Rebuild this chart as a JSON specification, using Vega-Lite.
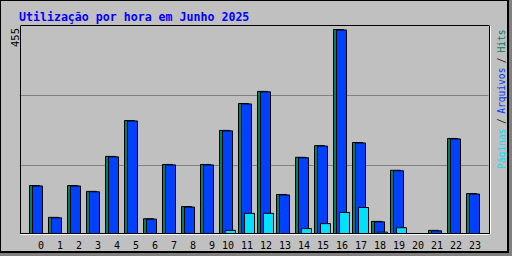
{
  "$schema": "https://vega.github.io/schema/vega-lite/v6.json",
  "width": 508,
  "height": 252,
  "autosize": {"type": "none"},
  "padding": {"left": 0, "top": 0, "right": 4, "bottom": 4},
  "background": "#808080",
  "config": {
    "view": {"fill": "#c0c0c0", "stroke": "#000000", "strokeWidth": 2},
    "axis": {"labelFont": "DejaVu Sans Mono", "labelColor": "#000000", "ticks": false, "tickSize": 0, "title": null, "domainWidth": 1, "labelOverlap": false, "labelBound": false, "labelFlush": false, "grid": false}
  },
  "title": {"text": "Utilização por hora em Junho 2025", "anchor": "start", "frame": "group", "dx": 19, "offset": -32.5, "baseline": "alphabetic", "font": "DejaVu Sans Mono", "fontWeight": "bold", "fontSize": 11.6, "color": "#0000ff"},
  "data": {"values": [
    {"hour": 0, "hits": 107, "files": 106, "pages": 0},
    {"hour": 1, "hits": 36, "files": 35, "pages": 0},
    {"hour": 2, "hits": 107, "files": 106, "pages": 0},
    {"hour": 3, "hits": 94, "files": 93, "pages": 0},
    {"hour": 4, "hits": 172, "files": 171, "pages": 0},
    {"hour": 5, "hits": 252, "files": 251, "pages": 0},
    {"hour": 6, "hits": 33, "files": 32, "pages": 0},
    {"hour": 7, "hits": 154, "files": 153, "pages": 0},
    {"hour": 8, "hits": 60, "files": 59, "pages": 0},
    {"hour": 9, "hits": 154, "files": 153, "pages": 0},
    {"hour": 10, "hits": 230, "files": 229, "pages": 7},
    {"hour": 11, "hits": 290, "files": 289, "pages": 45},
    {"hour": 12, "hits": 317, "files": 316, "pages": 45},
    {"hour": 13, "hits": 87, "files": 86, "pages": 0},
    {"hour": 14, "hits": 170, "files": 169, "pages": 11},
    {"hour": 15, "hits": 196, "files": 195, "pages": 22},
    {"hour": 16, "hits": 455, "files": 454, "pages": 47},
    {"hour": 17, "hits": 203, "files": 202, "pages": 58},
    {"hour": 18, "hits": 27, "files": 26, "pages": 3},
    {"hour": 19, "hits": 141, "files": 140, "pages": 13},
    {"hour": 20, "hits": 0, "files": 0, "pages": 0},
    {"hour": 21, "hits": 7, "files": 6, "pages": 0},
    {"hour": 22, "hits": 212, "files": 211, "pages": 0},
    {"hour": 23, "hits": 89, "files": 88, "pages": 0}
  ]},
  "layer": [
    {
      "mark": {"type": "bar", "width": 10, "xOffset": -3, "fill": "#00805c", "stroke": "#000000", "strokeWidth": 1},
      "encoding": {
        "x": {"field": "hour", "type": "ordinal",
          "scale": {"type": "band", "domain": [0,1,2,3,4,5,6,7,8,9,10,11,12,13,14,15,16,17,18,19,20,21,22,23], "range": [20, 489], "paddingInner": 0, "paddingOuter": 0.3421, "align": 0.6154},
          "axis": {"orient": "bottom", "offset": -19, "domainColor": "#000000", "labelFontSize": 10, "labelAlign": "right", "labelOffset": 6.5, "labelBaseline": "alphabetic", "labelPadding": 15.5, "labelAngle": 0}},
        "y": {"field": "hits", "type": "quantitative",
          "scale": {"domain": [0, 464], "range": [233.5, 25.5], "nice": false, "zero": true},
          "axis": {"orient": "left", "offset": -20, "values": [455], "domainColor": "#000000", "labelAngle": -90, "labelAlign": "right", "labelBaseline": "alphabetic", "labelPadding": 1.5, "labelFontSize": 10.5, "labelOffset": -2}}
      }
    },
    {
      "mark": {"type": "bar", "width": 10, "xOffset": 0, "fill": "#0040ff", "stroke": "#000000", "strokeWidth": 1},
      "encoding": {
        "x": {"field": "hour", "type": "ordinal",
          "axis": {"orient": "top", "offset": -25, "labels": false, "domainColor": "#000000"}},
        "y": {"field": "files", "type": "quantitative",
          "axis": {"orient": "right", "offset": -19, "labels": false, "grid": true, "gridColor": "#808080", "gridWidth": 1, "values": [152.8, 309], "domainColor": "#000000"}}
      }
    },
    {
      "mark": {"type": "bar", "width": 10, "xOffset": 3, "fill": "#00e0ff", "stroke": "#000000", "strokeWidth": 1},
      "encoding": {
        "x": {"field": "hour", "type": "ordinal",
          "axis": {"orient": "bottom", "offset": -18, "labels": false, "domainColor": "#ffffff"}},
        "y": {"field": "pages", "type": "quantitative",
          "axis": {"orient": "right", "offset": -18, "domainColor": "#ffffff", "values": [190.3, 251.9, 319.7, 387.3, 430.5],
            "labelExpr": "datum.value < 200 ? 'Páginas' : datum.value < 280 ? '/' : datum.value < 350 ? 'Arquivos' : datum.value < 410 ? '/' : 'Hits'",
            "labelColor": {"condition": [
              {"test": "datum.value < 200", "value": "#00e0ff"},
              {"test": "datum.value > 300 && datum.value < 350", "value": "#0040ff"},
              {"test": "datum.value > 420", "value": "#00805c"}
            ], "value": "#000000"},
            "labelAngle": -90, "labelAlign": "center", "labelBaseline": "top", "labelPadding": 6, "labelFontSize": 9.6}}
      }
    }
  ],
  "resolve": {"axis": {"x": "independent", "y": "independent"}}
}
